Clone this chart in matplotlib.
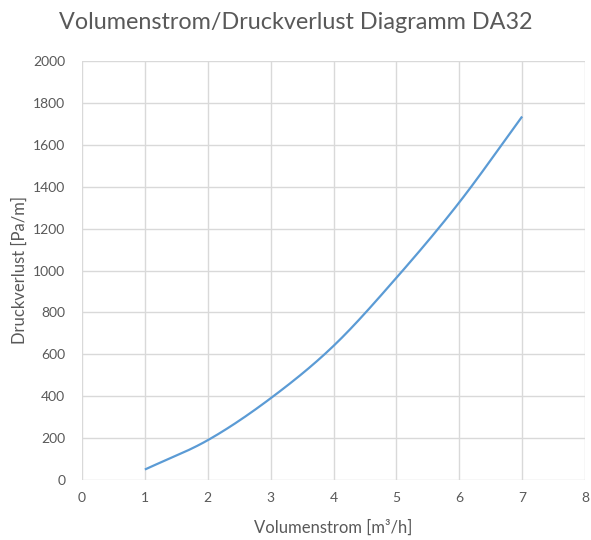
import matplotlib
matplotlib.use('Agg')
import matplotlib.pyplot as plt
import numpy as np

# flow rate [m³/h] vs. pressure loss [Pa/m] for DA32
volumenstrom = [1, 2, 3, 4, 5, 6, 7]
druckverlust = [50, 190, 390, 640, 965, 1325, 1735]

x_ticks = [0, 1, 2, 3, 4, 5, 6, 7, 8]
y_ticks = [0, 200, 400, 600, 800, 1000, 1200, 1400, 1600, 1800, 2000]

plt.rcParams['font.family'] = ['Lato', 'DejaVu Sans']
text_color = '#595959'
grid_color = '#d9d9d9'


def smooth_curve(xs, ys, steps=30):
    # Catmull-Rom spline through the points, similar to a smoothed scatter line
    xs = np.asarray(xs, float)
    ys = np.asarray(ys, float)
    px = np.concatenate([[2 * xs[0] - xs[1]], xs, [2 * xs[-1] - xs[-2]]])
    py = np.concatenate([[2 * ys[0] - ys[1]], ys, [2 * ys[-1] - ys[-2]]])
    out_x, out_y = [], []
    t = np.linspace(0, 1, steps, endpoint=False)
    for i in range(1, len(px) - 2):
        for p, out in ((px, out_x), (py, out_y)):
            p0, p1, p2, p3 = p[i - 1], p[i], p[i + 1], p[i + 2]
            out.extend(0.5 * ((2 * p1) + (-p0 + p2) * t
                              + (2 * p0 - 5 * p1 + 4 * p2 - p3) * t ** 2
                              + (-p0 + 3 * p1 - 3 * p2 + p3) * t ** 3))
    out_x.append(xs[-1])
    out_y.append(ys[-1])
    return out_x, out_y


fig = plt.figure(figsize=(5.91, 5.40), dpi=100)
ax = fig.add_axes([82 / 591, 60 / 540, 503 / 591, 419 / 540])

sx, sy = smooth_curve(volumenstrom, druckverlust)
ax.plot(sx, sy, color='#5b9bd5', linewidth=1.6, solid_capstyle='butt', zorder=3)

ax.set_xlim(0, 8)
ax.set_ylim(0, 2000)
ax.set_xticks(x_ticks)
ax.set_yticks(y_ticks)
ax.grid(True, color=grid_color, linewidth=1.0)
ax.set_axisbelow(True)
for s in ax.spines.values():
    s.set_visible(False)
ax.tick_params(length=0, labelsize=10, labelcolor=text_color, pad=9)
ax.tick_params(axis='y', pad=12)

ax.set_xlabel('Volumenstrom [m³/h]', fontsize=12, color=text_color, labelpad=11)
ax.set_ylabel('Druckverlust [Pa/m]', fontsize=12, color=text_color, labelpad=4)
fig.text(0.5, 0.958, 'Volumenstrom/Druckverlust Diagramm DA32',
         fontsize=16.8, color=text_color, ha='center', va='center')

fig.savefig('out.png', dpi=100, facecolor='white')
